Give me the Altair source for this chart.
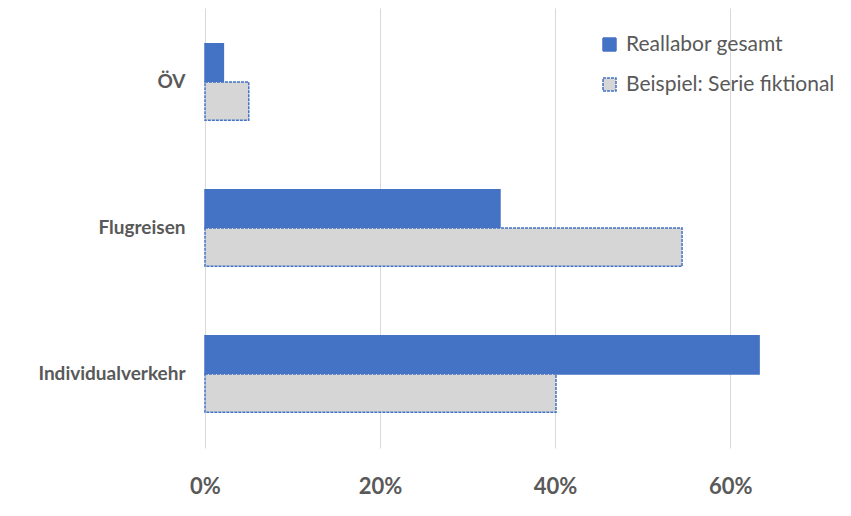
import altair as alt
import pandas as pd

categories = ["ÖV", "Flugreisen", "Individualverkehr"]
series = ["Reallabor gesamt", "Beispiel: Serie fiktional"]
reallabor = [0.021, 0.337, 0.633]
beispiel = [0.050, 0.545, 0.401]
x_ticks = [0, 0.2, 0.4, 0.6]

rows = []
for c, a, b in zip(categories, reallabor, beispiel):
    rows.append({"Kategorie": c, "Serie": series[0], "Anteil": a})
    rows.append({"Kategorie": c, "Serie": series[1], "Anteil": b})
df = pd.DataFrame(rows)

legend = alt.Legend(
    title=None, orient="none", legendX=394, legendY=26, padding=0,
    symbolType="square", symbolSize=169, symbolStrokeWidth=1.5,
    labelFont="Lato", labelFontSize=21, labelColor="#595959",
    labelOffset=6, rowPadding=18, labelLimit=400,
)

chart = alt.Chart(df).mark_bar(strokeWidth=1.5).encode(
    y=alt.Y("Kategorie:N", sort=categories,
            scale=alt.Scale(paddingInner=0.475, paddingOuter=0.245),
            axis=alt.Axis(title=None, ticks=False, domain=False, labelPadding=20,
                          labelFontSize=19, labelFontWeight="bold", labelColor="#595959",
                          labelFont="Lato", grid=False, labelLimit=300)),
    yOffset=alt.YOffset("Serie:N", sort=series,
                        scale=alt.Scale(domain=series, paddingInner=0, paddingOuter=0)),
    x=alt.X("Anteil:Q", scale=alt.Scale(domain=[0, 0.738], nice=False, zero=True),
            axis=alt.Axis(title=None, values=x_ticks, format=".0%", ticks=False, domain=False,
                          grid=True, gridColor="#d9d9d9", gridWidth=1, labelFlush=False,
                          labelPadding=28, labelFontSize=22, labelFontWeight="bold",
                          labelColor="#595959", labelFont="Lato")),
    color=alt.Color("Serie:N", sort=series,
                    scale=alt.Scale(domain=series, range=["#4472C4", "#d6d6d6"]),
                    legend=legend),
    stroke=alt.Stroke("Serie:N", sort=series,
                      scale=alt.Scale(domain=series, range=["#4472C4", "#4472C4"]),
                      legend=legend),
    strokeDash=alt.StrokeDash("Serie:N", sort=series,
                              scale=alt.Scale(domain=series, range=[[1, 0], [3, 1]]),
                              legend=legend),
).properties(
    width=646, height=440,
    autosize=alt.AutoSizeParams(type="none"),
    padding={"left": 205, "top": 8, "right": 0, "bottom": 68},
    background="white",
).configure_view(stroke=None)

chart.save("out.html", embed_options={"renderer": "svg", "actions": False})
